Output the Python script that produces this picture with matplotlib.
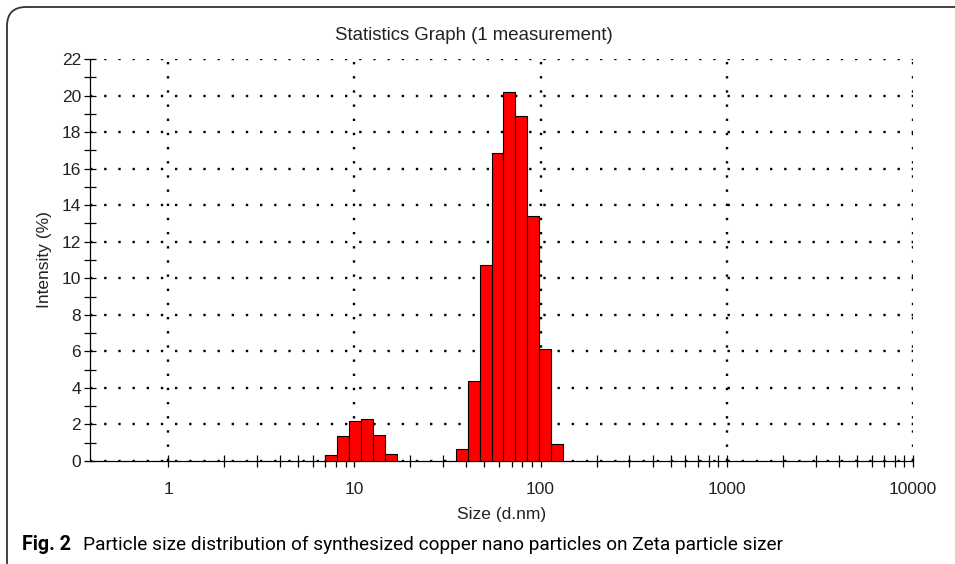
import numpy as np
import matplotlib.pyplot as plt
from matplotlib.ticker import MultipleLocator, FixedLocator, NullFormatter
from matplotlib.patches import FancyBboxPatch

# Malvern size classes (d.nm) that hold non-zero intensity
sizes = [7.531, 8.721, 10.1, 11.7, 13.54, 15.69,
         37.84, 43.82, 50.75, 58.77, 68.06, 78.82, 91.28, 105.7, 122.4]
intensity = [0.35, 1.35, 2.2, 2.28, 1.45, 0.4,
             0.65, 4.4, 10.75, 16.85, 20.2, 18.9, 13.4, 6.15, 0.95]
xticks = [1, 10, 100, 1000, 10000]
xticklabels = ['1', '10', '100', '1000', '10000']
yticks = list(range(0, 23, 2))

# 70 log-spaced classes from 0.4 to 10000 nm
step = 10 ** (np.log10(10000 / 0.4) / 69)

plt.rcParams['font.family'] = ['Liberation Sans', 'DejaVu Sans']
txt = '#222222'

fig = plt.figure(figsize=(9.55, 5.64), dpi=100)
ax = fig.add_axes([90 / 955, 1 - 461 / 564, (913 - 90) / 955, (461 - 59) / 564])

s = np.array(sizes)
left = s / np.sqrt(step)
width = s * np.sqrt(step) - left
ax.bar(left, intensity, width=width, align='edge', color='#ff0000',
       edgecolor='black', linewidth=0.8, zorder=3)

ax.set_xscale('log')
ax.set_xlim(0.381, 10000)
ax.set_ylim(0, 22)

# minor ticks 2..9 in each decade from 1 upward
minor_x = [m * 10 ** d for d in range(0, 4) for m in range(2, 10)]
ax.xaxis.set_major_locator(FixedLocator(xticks))
ax.set_xticklabels(xticklabels)
ax.xaxis.set_minor_locator(FixedLocator(minor_x))
ax.xaxis.set_minor_formatter(NullFormatter())
ax.set_yticks(yticks)
ax.yaxis.set_minor_locator(MultipleLocator(1))

ax.tick_params(axis='both', which='both', direction='inout', length=9,
               width=0.9, color='black', labelsize=12.5, labelcolor=txt)
ax.tick_params(axis='x', which='major', pad=10.5)
ax.tick_params(axis='y', which='major', pad=2)

ax.grid(True, which='major', color='black', linestyle=(0, (1, 5)),
        linewidth=1.7, zorder=0)

for side in ['top', 'right']:
    ax.spines[side].set_visible(False)
for side in ['left', 'bottom']:
    ax.spines[side].set_linewidth(0.9)
ax.set_facecolor('none')

ax.set_xlabel('Size (d.nm)', fontsize=12.5, color=txt, labelpad=7)
ax.set_ylabel('Intensity (%)', fontsize=12.5, color=txt, labelpad=7)

fig.text(474 / 955, 1 - 35 / 564, 'Statistics Graph (1 measurement)',
         ha='center', va='center', fontsize=13.4, color=txt)

# rounded frame of the figure panel
frame = FancyBboxPatch((7 / 955, -20 / 564), 980 / 955, (557 + 20) / 564,
                       boxstyle='round,pad=0,rounding_size=0.02',
                       transform=fig.transFigure, fill=False,
                       edgecolor='#333333', linewidth=1.3,
                       mutation_aspect=955 / 564)
fig.patches.append(frame)

fig.text(22 / 955, 1 - 545 / 564, 'Fig. 2', fontsize=14.2, fontweight='bold',
         family='Roboto', ha='left', va='center', color='black')
fig.text(83 / 955, 1 - 545 / 564,
         'Particle size distribution of synthesized copper nano particles on Zeta particle sizer',
         fontsize=13.7, family='Roboto', ha='left', va='center', color='black')

fig.savefig('out.png', dpi=100)
